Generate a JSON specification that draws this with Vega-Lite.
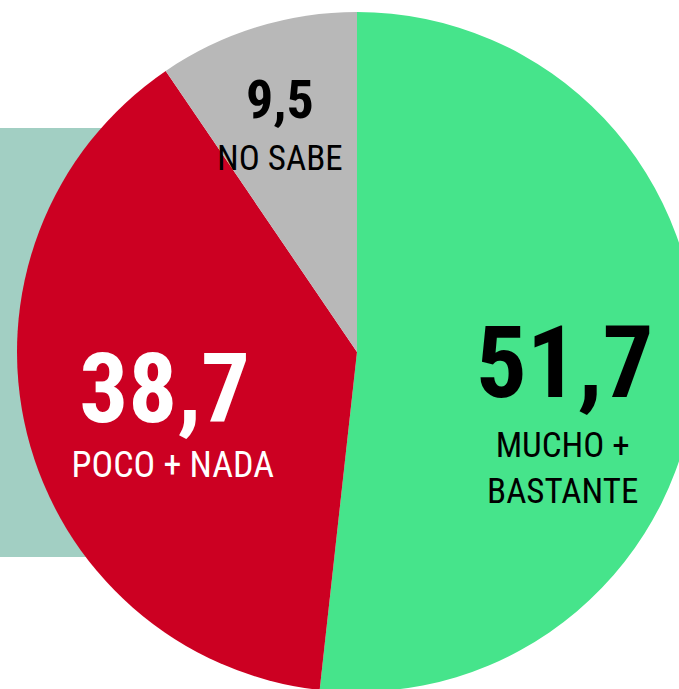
{
  "$schema": "https://vega.github.io/schema/vega-lite/v6.json",
  "width": 714,
  "height": 704,
  "padding": 0,
  "autosize": {"type": "none"},
  "background": "white",
  "config": {
    "view": {"stroke": null},
    "locale": {"number": {"decimal": ",", "thousands": ".", "grouping": [3], "currency": ["", " €"]}}
  },
  "data": {
    "values": [
      {"cat": "MUCHO + BASTANTE", "name": "MUCHO +|BASTANTE", "val": 51.7, "ord": 1},
      {"cat": "POCO + NADA", "name": "POCO + NADA", "val": 38.7, "ord": 2},
      {"cat": "NO SABE", "name": "NO SABE", "val": 9.5, "ord": 3}
    ]
  },
  "layer": [
    {
      "mark": {"type": "rect", "color": "#a2cfc3"},
      "encoding": {
        "x": {"datum": 0, "type": "quantitative", "scale": {"domain": [0, 714], "range": [0, 714]}, "axis": null},
        "x2": {"datum": 200},
        "y": {"datum": 128, "type": "quantitative", "scale": {"domain": [0, 704], "range": [0, 704]}, "axis": null},
        "y2": {"datum": 557}
      }
    },
    {
      "mark": {"type": "arc", "outerRadius": 340},
      "encoding": {
        "theta": {"field": "val", "type": "quantitative", "stack": true},
        "order": {"field": "ord", "type": "ordinal"},
        "color": {
          "field": "cat", "type": "nominal", "legend": null,
          "scale": {"domain": ["MUCHO + BASTANTE", "POCO + NADA", "NO SABE"], "range": ["#46e48b", "#cc0022", "#b8b8b8"]}
        }
      }
    },
    {
      "mark": {"type": "text", "radius": 208, "dy": 34, "align": "center", "baseline": "alphabetic", "font": "Roboto Condensed, Roboto, sans-serif", "fontWeight": "bold", "fontSize": 101, "color": "black"},
      "encoding": {
        "theta": {"field": "val", "type": "quantitative", "stack": true},
        "order": {"field": "ord", "type": "ordinal"},
        "text": {"condition": {"test": "datum.cat === 'MUCHO + BASTANTE'", "field": "val", "type": "quantitative", "format": ".1f"}, "value": ""}
      }
    },
    {
      "mark": {"type": "text", "radius": 206, "dy": 94, "align": "center", "baseline": "alphabetic", "lineBreak": "|", "lineHeight": 46, "font": "Roboto Condensed, Roboto, sans-serif", "fontSize": 35, "color": "black"},
      "encoding": {
        "theta": {"field": "val", "type": "quantitative", "stack": true},
        "order": {"field": "ord", "type": "ordinal"},
        "text": {"condition": {"test": "datum.cat === 'MUCHO + BASTANTE'", "field": "name"}, "value": ""}
      }
    },
    {
      "mark": {"type": "text", "radius": 194, "dy": 23, "dx": -4, "align": "center", "baseline": "alphabetic", "font": "Roboto Condensed, Roboto, sans-serif", "fontWeight": "bold", "fontSize": 97, "color": "white"},
      "encoding": {
        "theta": {"field": "val", "type": "quantitative", "stack": true},
        "order": {"field": "ord", "type": "ordinal"},
        "text": {"condition": {"test": "datum.cat === 'POCO + NADA'", "field": "val", "type": "quantitative", "format": ".1f"}, "value": ""}
      }
    },
    {
      "mark": {"type": "text", "radius": 194, "dy": 78, "dx": 4, "align": "center", "baseline": "alphabetic", "font": "Roboto Condensed, Roboto, sans-serif", "fontSize": 36, "color": "white"},
      "encoding": {
        "theta": {"field": "val", "type": "quantitative", "stack": true},
        "order": {"field": "ord", "type": "ordinal"},
        "text": {"condition": {"test": "datum.cat === 'POCO + NADA'", "field": "name"}, "value": ""}
      }
    },
    {
      "mark": {"type": "text", "radius": 262, "dy": 16, "align": "center", "baseline": "alphabetic", "font": "Roboto Condensed, Roboto, sans-serif", "fontWeight": "bold", "fontSize": 54, "color": "black"},
      "encoding": {
        "theta": {"field": "val", "type": "quantitative", "stack": true},
        "order": {"field": "ord", "type": "ordinal"},
        "text": {"condition": {"test": "datum.cat === 'NO SABE'", "field": "val", "type": "quantitative", "format": ".1f"}, "value": ""}
      }
    },
    {
      "mark": {"type": "text", "radius": 262, "dy": 68, "align": "center", "baseline": "alphabetic", "font": "Roboto Condensed, Roboto, sans-serif", "fontSize": 35, "color": "black"},
      "encoding": {
        "theta": {"field": "val", "type": "quantitative", "stack": true},
        "order": {"field": "ord", "type": "ordinal"},
        "text": {"condition": {"test": "datum.cat === 'NO SABE'", "field": "name"}, "value": ""}
      }
    }
  ]
}
